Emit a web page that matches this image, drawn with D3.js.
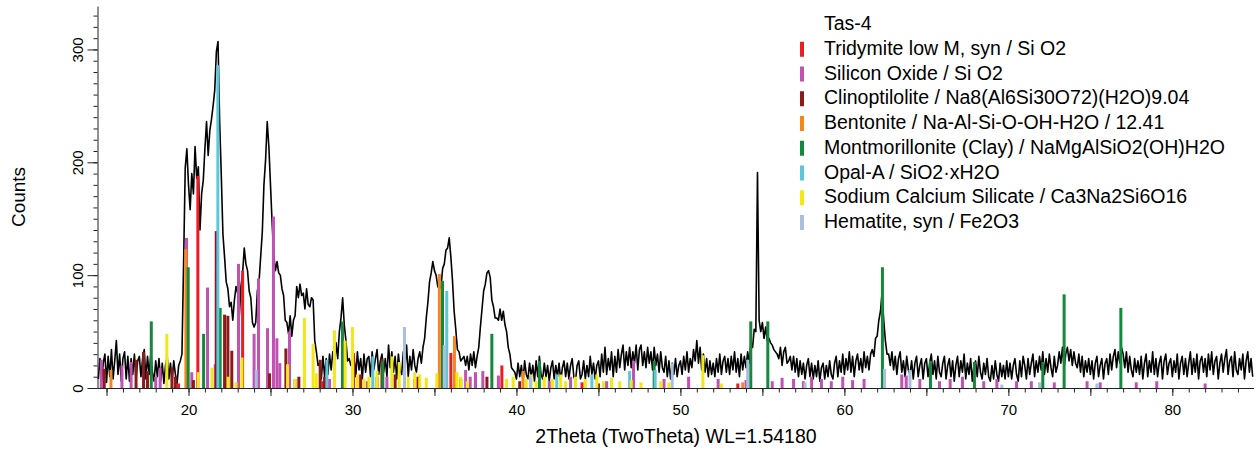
<!DOCTYPE html>
<html>
<head>
<meta charset="utf-8">
<script src="https://cdn.jsdelivr.net/npm/d3@7"></script>
<style>
  body { margin: 0; background: #fff; }
  text { font-family: "Liberation Sans", Arial, sans-serif; }
</style>
</head>
<body>
<script>
// measured pattern, 2theta from 14.5 in steps of 0.1
var countsStart = 14.5,
    countsStep = 0.1;
var counts = [
  8, 26, 6, 22, 30,
  5, 28, 10, 34, 8, 24, 42, 12, 30, 6,
  26, 32, 8, 28, 6, 26, 12, 30, 8, 24,
  28, 10, 26, 34, 8, 28, 12, 30, 14, 6,
  24, 10, 26, 6, 22, 4, 20, 28, 8, 22,
  6, 24, 12, 4, 20, 24, 30, 110, 195, 212,
  180, 158, 190, 172, 214, 186, 196, 140, 172, 184,
  212, 236, 206, 228, 238, 250, 264, 298, 307, 236,
  188, 136, 116, 94, 88, 72, 76, 60, 78, 90,
  84, 64, 90, 102, 124, 110, 104, 86, 80, 58,
  54, 58, 86, 94, 116, 138, 180, 202, 236, 214,
  180, 146, 118, 104, 112, 102, 100, 88, 82, 60,
  58, 48, 64, 46, 60, 64, 90, 80, 92, 82,
  84, 70, 88, 74, 72, 80, 78, 42, 32, 20,
  22, 8, 28, 10, 26, 12, 30, 16, 32, 20,
  40, 26, 50, 62, 80, 56, 42, 24, 26, 20,
  22, 28, 10, 32, 16, 26, 8, 30, 14, 26,
  28, 10, 32, 16, 26, 34, 12, 24, 30, 14,
  26, 10, 38, 18, 32, 14, 28, 8, 30, 16,
  12, 32, 18, 38, 10, 28, 16, 34, 20, 14,
  26, 32, 22, 36, 44, 62, 76, 94, 102, 112,
  104, 100, 90, 88, 90, 106, 110, 122, 124, 133,
  116, 95, 68, 52, 34, 32, 24, 26, 28, 20,
  28, 16, 30, 20, 32, 18, 28, 36, 54, 70,
  86, 92, 102, 104, 98, 78, 72, 62, 62, 60,
  70, 60, 68, 56, 50, 36, 30, 18, 16, 14,
  8, 22, 10, 20, 6, 24, 12, 8, 22, 10,
  20, 6, 24, 10, 28, 12, 8, 22, 10, 20,
  6, 18, 24, 8, 20, 10, 22, 6, 18, 24,
  10, 22, 8, 20, 26, 10, 6, 20, 24, 8,
  12, 24, 8, 20, 10, 28, 12, 22, 8, 20,
  24, 10, 30, 14, 36, 12, 26, 16, 32, 10,
  28, 14, 34, 18, 30, 38, 16, 32, 20, 36,
  18, 32, 22, 38, 16, 34, 38, 20, 32, 18,
  36, 22, 32, 16, 36, 20, 30, 14, 32, 18,
  14, 28, 10, 24, 8, 22, 12, 26, 10, 20,
  24, 12, 28, 16, 32, 14, 26, 18, 34, 24,
  42, 22, 36, 16, 30, 14, 26, 10, 24, 12,
  22, 10, 26, 14, 30, 12, 24, 28, 14, 26,
  12, 28, 16, 32, 14, 26, 10, 30, 16, 28,
  18, 32, 22, 40, 36, 52, 50, 191, 60, 50,
  58, 44, 54, 42, 44, 40, 38, 34, 32, 30,
  26, 36, 20, 32, 36, 22, 24, 28, 16, 28,
  14, 26, 10, 24, 12, 22, 8, 20, 26, 10,
  22, 8, 20, 10, 24, 6, 18, 22, 8, 20,
  10, 24, 12, 8, 22, 28, 10, 24, 14, 30,
  12, 26, 16, 32, 14, 28, 10, 24, 30, 16,
  26, 14, 32, 18, 28, 16, 30, 34, 28, 44,
  46, 60, 68, 85, 60, 42, 30, 30, 20, 32,
  16, 28, 12, 26, 32, 14, 24, 10, 28, 16,
  12, 24, 8, 22, 28, 10, 20, 26, 8, 22,
  26, 10, 22, 30, 12, 24, 8, 28, 14, 10,
  22, 28, 8, 20, 26, 10, 24, 6, 20, 28,
  10, 24, 14, 30, 8, 22, 12, 26, 6, 20,
  24, 10, 28, 14, 8, 22, 12, 26, 10, 6,
  20, 8, 24, 12, 6, 22, 10, 20, 8, 24,
  10, 22, 8, 20, 26, 12, 6, 24, 10, 28,
  20, 8, 26, 12, 22, 30, 10, 24, 14, 28,
  16, 32, 12, 26, 14, 30, 18, 10, 28, 14,
  20, 32, 22, 36, 18, 30, 36, 24, 34, 20,
  32, 22, 18, 30, 14, 28, 10, 24, 14, 26,
  12, 24, 8, 22, 28, 10, 20, 26, 8, 22,
  26, 12, 30, 16, 28, 34, 18, 32, 22, 36,
  30, 18, 32, 14, 28, 16, 10, 26, 14, 24,
  12, 28, 8, 22, 30, 10, 24, 14, 32, 12,
  26, 10, 22, 28, 8, 24, 30, 12, 22, 26,
  10, 24, 14, 30, 8, 22, 28, 12, 26, 10,
  22, 32, 12, 26, 14, 30, 8, 24, 28, 14,
  26, 10, 30, 16, 32, 12, 24, 28, 8, 22,
  30, 14, 26, 34, 12, 24, 28, 10, 32, 16,
  12, 26, 16, 30, 8, 24, 32, 14, 26, 10
];

// reference sticks [2theta, counts] per phase
var tridymite = [[19.39,4],[20.57,188],[23.3,104],[28.2,6],[30.06,31],[31.5,10],[33.8,8],
  [36.0,31],[37.5,12],[39.11,20],[44.0,5],[53.5,4]];
var siliconOxide = [[14.68,25],[15.94,20],[16.5,23],[18.0,10],[18.27,18],[19.88,133],[20.2,14],
  [21.16,89],[21.63,21],[23.05,110],[24.0,48],[24.27,97],[24.82,53],[25.18,152],[25.39,44],
  [25.57,22],[26.16,50],[26.5,8],[28.6,8],[30.9,6],[32.1,10],[36.9,16],[37.18,10],[37.5,14],
  [37.95,15],[38.9,11],[42.0,6],[43.3,10],[45.5,6],[47.14,24],[49.0,8],[50.5,10],[52.3,8],
  [54.0,7],[55.6,6],[56.2,9],[56.9,8],[57.5,6],[58.0,10],[58.6,8],[59.2,6],[59.9,10],[60.5,7],
  [61.2,8],[63.5,12],[63.77,11],[64.6,8],[65.8,6],[66.45,8],[67.2,10],[68.5,6],[69.3,8],
  [70.5,6],[71.4,6],[72.8,5],[74.8,6],[75.6,5],[77.8,5],[79.05,6],[82.0,4]];
var clinoptilolite = [[14.86,17],[16.8,25],[17.26,32],[17.5,15],[18.99,18],[19.2,10],[20.3,7],
  [21.69,139],[22.2,65],[22.4,64],[22.64,33],[24.94,13],[25.94,35],[26.73,10],[28.03,25],
  [28.3,10],[30.5,12],[31.8,26],[32.6,12],[34.0,10],[36.6,8],[38.2,10],[40.2,6],[45.0,4]];
var bentonite = [[15.27,16],[19.84,123],[35.3,101],[36.22,46],[40.4,15],[53.8,5]];
var montmorillonite = [[17.73,59],[19.98,107],[20.92,48],[21.93,71],[29.39,59],[31.85,24],
  [35.49,95],[38.5,48],[41.4,24],[48.4,24],[54.29,59],[55.33,59],[62.32,107],[65.25,24],
  [67.93,23],[72.1,23],[73.4,83],[76.86,71]];
var opalA = [[21.79,286],[28.44,25],[31.24,28],[35.75,86],[42.46,12],[44.6,12],[46.9,15],[48.46,16]];
var sodiumCalciumSilicate = [[18.68,48],[20.6,14],[21.43,18],[22.42,10],[22.9,5],[23.26,27],
  [26.04,21],[26.5,8],[27.07,62],[27.6,39],[27.79,13],[28.9,51],[29.55,42],[30.0,54],[30.3,12],
  [30.7,8],[31.0,10],[31.5,15],[32.4,28],[32.85,23],[33.4,10],[33.8,14],[34.1,12],[34.5,9],
  [35.15,13],[36.37,14],[36.6,10],[37.0,6],[39.4,8],[39.8,10],[40.6,8],[40.9,12],[41.2,6],
  [41.7,10],[42.2,8],[42.7,12],[43.0,6],[43.6,10],[44.2,8],[44.9,12],[45.3,6],[45.8,9],
  [46.3,6],[47.0,7],[47.6,5],[48.8,6],[49.3,5],[51.37,29],[52.5,4]];
var hematite = [[24.13,16],[33.17,54],[35.6,38],[40.85,11],[49.5,22],[54.1,25],[57.6,5],
  [62.45,17],[64.0,16],[69.6,3],[71.9,5],[75.4,4]];

var sampleName = "Tas-4";
var phaseNames = [
  "Tridymite low M, syn / Si O2",
  "Silicon Oxide / Si O2",
  "Clinoptilolite / Na8(Al6Si30O72)(H2O)9.04",
  "Bentonite / Na-Al-Si-O-OH-H2O / 12.41",
  "Montmorillonite (Clay) / NaMgAlSiO2(OH)H2O",
  "Opal-A / SiO2·xH2O",
  "Sodium Calcium Silicate / Ca3Na2Si6O16",
  "Hematite, syn / Fe2O3"
];
var phases = [tridymite, siliconOxide, clinoptilolite, bentonite, montmorillonite, opalA, sodiumCalciumSilicate, hematite];

var xLabels = [20, 30, 40, 50, 60, 70, 80];
var yLabels = [0, 100, 200, 300];

// styles
var colors = ["#ec1c24", "#c052b2", "#8b1a1a", "#f7861f", "#14883c", "#5ec6d8", "#f1e816", "#a8c0de"];

var width = 1258, height = 451;
var plot = {left: 97.5, right: 1253.5, top: 6, bottom: 388};

var x = d3.scaleLinear()
    .domain([14.45, 84.95])
    .range([plot.left, plot.right]);

var y = d3.scaleLinear()
    .domain([0, 338.5])
    .range([plot.bottom, plot.top]);

var svg = d3.select("body").append("svg")
    .attr("width", width)
    .attr("height", height);

// pattern
var line = d3.line()
    .x(function(d, i) { return x(countsStart + i * countsStep); })
    .y(function(d) { return y(d); });

svg.append("path")
    .datum(counts)
    .attr("fill", "none")
    .attr("stroke", "#000")
    .attr("stroke-width", 1.6)
    .attr("stroke-linejoin", "round")
    .attr("d", line);

// sticks
phases.forEach(function(p, k) {
  svg.append("g").selectAll("rect")
      .data(p)
    .enter().append("rect")
      .attr("x", function(d) { return x(d[0]) - 1.5; })
      .attr("y", function(d) { return y(d[1]); })
      .attr("width", 3)
      .attr("height", function(d) { return y(0) - y(d[1]); })
      .attr("fill", colors[k]);
});

// x axis
svg.append("g")
    .attr("transform", "translate(0," + plot.bottom + ")")
    .call(d3.axisBottom(x).tickValues(d3.range(15, 85)).tickSize(4.5).tickFormat(""))
    .call(function(g) { g.select(".domain").remove(); });

var xAxis = svg.append("g")
    .attr("transform", "translate(0," + plot.bottom + ")")
    .call(d3.axisBottom(x).tickValues(d3.range(15, 85, 5)).tickSize(8).tickSizeOuter(0)
      .tickFormat(function(d) { return xLabels.indexOf(d) >= 0 ? d : ""; }));
xAxis.selectAll("text").attr("font-size", 15).attr("font-family", "Liberation Sans, Arial").attr("y", 16).attr("dy", "0.71em");

// y axis
svg.append("g")
    .attr("transform", "translate(" + plot.left + ",0)")
    .call(d3.axisLeft(y).tickValues(d3.range(0, 340, 10)).tickSize(4).tickFormat(""))
    .call(function(g) { g.select(".domain").remove(); });

var yAxis = svg.append("g")
    .attr("transform", "translate(" + plot.left + ",0)")
    .call(d3.axisLeft(y).tickValues(yLabels).tickSize(10).tickSizeOuter(0));
yAxis.selectAll("text")
    .attr("font-size", 15)
    .attr("font-family", "Liberation Sans, Arial")
    .attr("x", null).attr("dy", null)
    .attr("text-anchor", "middle")
    .attr("transform", "translate(-15,0) rotate(-90)");

svg.selectAll(".domain, .tick line").attr("stroke", "#222");

svg.append("text")
    .attr("x", 676)
    .attr("y", 443)
    .attr("text-anchor", "middle")
    .attr("font-size", 19.5)
    .text("2Theta (TwoTheta) WL=1.54180");

svg.append("text")
    .attr("transform", "translate(25,197) rotate(-90)")
    .attr("text-anchor", "middle")
    .attr("font-size", 19)
    .text("Counts");

// legend
var legend = svg.append("g").attr("transform", "translate(824,30)");
legend.append("text").attr("font-size", 19.5).text(sampleName);
phaseNames.forEach(function(name, k) {
  var row = legend.append("g").attr("transform", "translate(0," + (24.75 * (k + 1)) + ")");
  row.append("rect")
      .attr("x", -24).attr("y", -13)
      .attr("width", 4).attr("height", 15)
      .attr("fill", colors[k]);
  row.append("text").attr("font-size", 19.5).text(name);
});
</script>
</body>
</html>
